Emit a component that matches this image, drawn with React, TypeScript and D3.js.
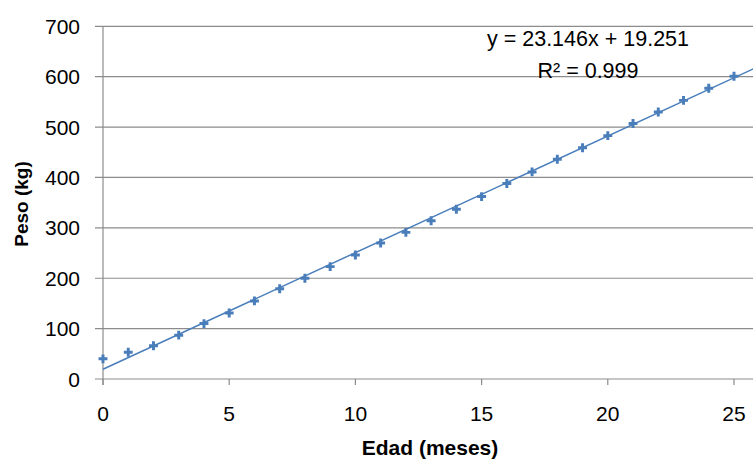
import React from "react";
import * as d3 from "d3";

const ages = [0,1,2,3,4,5,6,7,8,9,10,11,12,13,14,15,16,17,18,19,20,21,22,23,24,25];
const weights = [40,53,66,87,110,131,155,179,200,223,246,270,291,314,337,362,388,411,436,459,483,507,530,553,577,601];
const xTicks = [0,5,10,15,20,25];
const yTicks = [0,100,200,300,400,500,600,700];
const slope = 23.146;
const intercept = 19.251;
const equationLabel = "y = 23.146x + 19.251";
const r2Label = "R² = 0.999";
const xTitle = "Edad (meses)";
const yTitle = "Peso (kg)";

export default function App() {
  const W = 753, H = 459;
  const x = d3.scaleLinear().domain([0, 26]).range([103, 103 + 26 * 25.24]);
  const y = d3.scaleLinear().domain([0, 700]).range([379, 26.3]);
  const color = "#4A7EBB";
  const grid = "#8c8c8c";
  const font = "'Liberation Sans', Arial, sans-serif";
  const line = d3.line<number>().x(d => x(d)).y(d => y(slope * d + intercept));
  const marker = d3.symbol(d3.symbolCross, 44)();
  return (
    <svg width={W} height={H} style={{ position: "absolute", left: 0, top: 0, background: "#fff" }}>
      <rect width={W} height={H} fill="#fff" />
      {yTicks.map(t => (
        <line key={"g" + t} x1={95} x2={W} y1={y(t)} y2={y(t)} stroke={grid} strokeWidth={1.2} />
      ))}
      <line x1={x(0)} x2={x(0)} y1={y(700)} y2={y(0) + 6} stroke={grid} strokeWidth={1.2} />
      {xTicks.map(t => (
        <line key={"xt" + t} x1={x(t)} x2={x(t)} y1={y(0)} y2={y(0) + 6} stroke={grid} strokeWidth={1.2} />
      ))}
      {yTicks.map(t => (
        <text key={"yl" + t} x={80} y={y(t)} dy="0.36em" textAnchor="end" fontFamily={font} fontSize={21} fill="#000">{t}</text>
      ))}
      {xTicks.map(t => (
        <text key={"xl" + t} x={x(t)} y={413} dy="0.36em" textAnchor="middle" fontFamily={font} fontSize={21} fill="#000">{t}</text>
      ))}
      <path d={line([0, 27]) || ""} fill="none" stroke={color} strokeWidth={1.5} />
      {ages.map((a, i) => (
        <path key={"m" + i} d={marker || ""} transform={`translate(${x(a)},${y(weights[i])})`} fill={color} />
      ))}
      <text x={588} y={38} dy="0.36em" textAnchor="middle" fontFamily={font} fontSize={21.5} fill="#000">{equationLabel}</text>
      <text x={588} y={70} dy="0.36em" textAnchor="middle" fontFamily={font} fontSize={21.5} fill="#000">{r2Label}</text>
      <text x={430} y={447} dy="0.36em" textAnchor="middle" fontFamily={font} fontSize={21} fontWeight="bold" fill="#000">{xTitle}</text>
      <text transform="translate(21,204) rotate(-90)" dy="0.36em" textAnchor="middle" fontFamily={font} fontSize={19} fontWeight="bold" fill="#000">{yTitle}</text>
    </svg>
  );
}
